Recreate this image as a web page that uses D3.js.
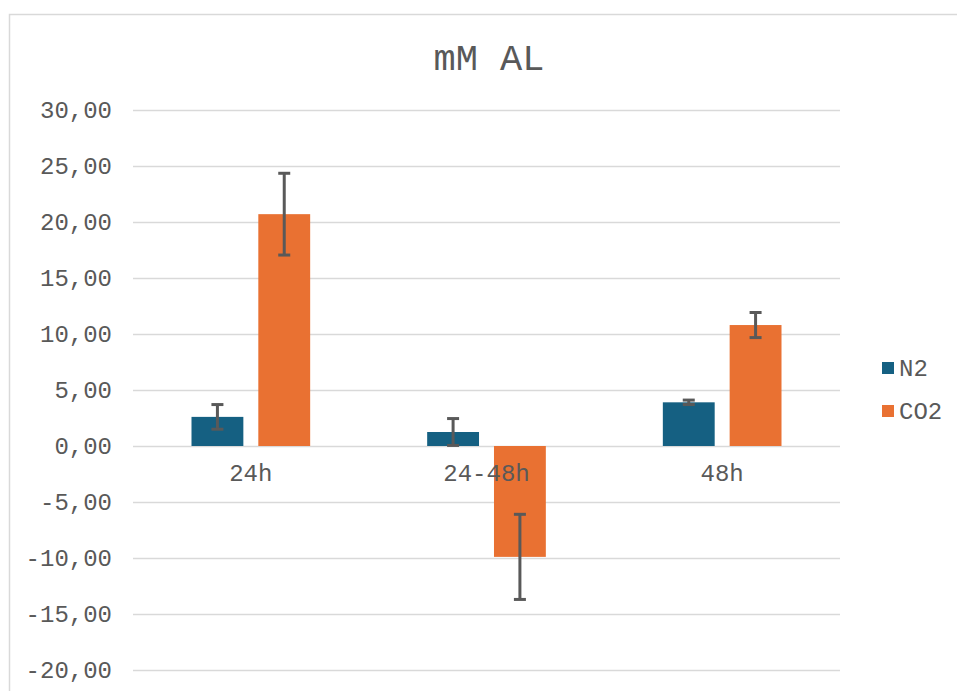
<!DOCTYPE html>
<html><head><meta charset="utf-8">
<script src="https://cdn.jsdelivr.net/npm/d3@7"></script>
<style>body{margin:0;background:#fff}svg{display:block}</style>
</head><body>
<script>
const categories = ["24h", "24-48h", "48h"];
const seriesNames = ["N2", "CO2"];
const n2Values = [2.6, 1.25, 3.9];
const n2Errors = [1.1, 1.2, 0.2];
const co2Values = [20.7, -9.9, 10.8];
const co2Errors = [3.65, 3.8, 1.12];
const yTicks = [-20, -15, -10, -5, 0, 5, 10, 15, 20, 25, 30];
const colors = ["#156082", "#E97132"];

const W = 957, H = 691;
const svg = d3.select("body").append("svg").attr("width", W).attr("height", H);
const font = "'Courier New', 'Liberation Mono', monospace";
const textColor = "#595959";

// chart frame
svg.append("rect").attr("x", 9.5).attr("y", 14.5).attr("width", 1000).attr("height", 1000)
  .attr("fill", "none").attr("stroke", "#d9d9d9").attr("stroke-width", 1.5);

const plot = {left: 133, right: 840, top: 110, bottom: 670};
const y = d3.scaleLinear().domain([-20, 30]).range([plot.bottom, plot.top]);
const x0 = d3.scaleBand().domain(categories).range([plot.left, plot.right]);
const x1 = d3.scaleBand().domain(seriesNames).range([58.5, x0.bandwidth() - 58.5]).paddingInner(0.224);

// gridlines
svg.append("g").selectAll("line").data(yTicks).join("line")
  .attr("x1", plot.left).attr("x2", plot.right)
  .attr("y1", d => Math.round(y(d)) + 0.5).attr("y2", d => Math.round(y(d)) + 0.5)
  .attr("stroke", "#d9d9d9").attr("stroke-width", 1.5);

// y axis labels
svg.append("g").selectAll("text").data(yTicks).join("text")
  .attr("x", 112).attr("y", d => y(d)).attr("dy", "0.35em")
  .attr("text-anchor", "end").attr("font-family", font).attr("font-size", 24)
  .attr("fill", textColor).text(d => d3.format(".2f")(d).replace(".", ",").replace("\u2212", "-"));

// bars
const data = categories.map((c, i) => ({
  cat: c,
  vals: [
    {s: "N2", v: n2Values[i], e: n2Errors[i], c: colors[0]},
    {s: "CO2", v: co2Values[i], e: co2Errors[i], c: colors[1]}
  ]
}));

const groups = svg.append("g").selectAll("g").data(data).join("g")
  .attr("transform", d => `translate(${x0(d.cat)},0)`);

groups.selectAll("rect").data(d => d.vals).join("rect")
  .attr("x", d => x1(d.s)).attr("width", x1.bandwidth())
  .attr("y", d => y(Math.max(0, d.v))).attr("height", d => Math.abs(y(d.v) - y(0)))
  .attr("fill", d => d.c);

// category labels
svg.append("g").selectAll("text").data(categories).join("text")
  .attr("x", d => x0(d) + x0.bandwidth() / 2).attr("y", y(0) + 27)
  .attr("dy", "0.35em").attr("text-anchor", "middle")
  .attr("font-family", font).attr("font-size", 24).attr("fill", textColor).text(d => d);

// error bars
const eb = groups.selectAll("g.err").data(d => d.vals).join("g").attr("class", "err");
eb.append("line")
  .attr("x1", d => x1(d.s) + x1.bandwidth() / 2).attr("x2", d => x1(d.s) + x1.bandwidth() / 2)
  .attr("y1", d => y(d.v + d.e)).attr("y2", d => y(d.v - d.e))
  .attr("stroke", "#595959").attr("stroke-width", 3);
eb.selectAll("line.cap").data(d => [
  {cx: x1(d.s) + x1.bandwidth() / 2, yv: d.v + d.e},
  {cx: x1(d.s) + x1.bandwidth() / 2, yv: d.v - d.e}]).join("line").attr("class", "cap")
  .attr("x1", d => d.cx - 6).attr("x2", d => d.cx + 6)
  .attr("y1", d => y(d.yv)).attr("y2", d => y(d.yv))
  .attr("stroke", "#595959").attr("stroke-width", 3);

// title
svg.append("text").attr("x", 489).attr("y", 57).attr("dy", "0.35em")
  .attr("text-anchor", "middle").attr("font-family", font).attr("font-size", 37)
  .attr("fill", textColor).text("mM AL");

// legend
const lg = svg.append("g").selectAll("g").data(seriesNames).join("g")
  .attr("transform", (d, i) => `translate(882,${368 + i * 43})`);
lg.append("rect").attr("x", 0).attr("y", -6).attr("width", 12).attr("height", 12)
  .attr("fill", (d, i) => colors[i]);
lg.append("text").attr("x", 17).attr("y", 0).attr("dy", "0.35em")
  .attr("font-family", font).attr("font-size", 24).attr("fill", textColor).text(d => d);
</script>
</body></html>
